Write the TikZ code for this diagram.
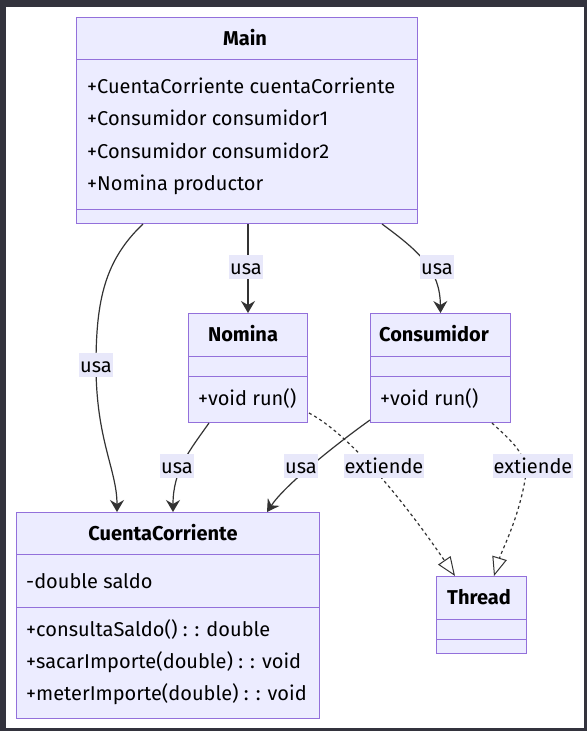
\documentclass[tikz,border=0pt]{standalone}
\usepackage{fontspec}
\setmainfont{Fira Sans}
\usetikzlibrary{arrows.meta,calc}
\definecolor{umlfill}{HTML}{ECECFF}
\definecolor{umlline}{HTML}{9370DB}
\definecolor{edgeline}{HTML}{333333}
\definecolor{labelbg}{HTML}{E8E8FA}
\definecolor{framecolor}{HTML}{33333D}

\newcommand{\umlfont}{\fontsize{20}{24}\selectfont}

\tikzset{
  classbox/.style={draw=umlline, fill=umlfill, line width=1pt, inner sep=0pt, anchor=north west},
  divider/.style={draw=umlline, line width=1pt},
  classname/.style={font=\umlfont\bfseries, inner sep=0pt, text height=15pt, text depth=1pt},
  member/.style={font=\umlfont, anchor=west, inner sep=0pt, text height=15pt, text depth=1pt},
  rel/.style={draw=edgeline, line width=1.2pt},
  uses/.style={rel, -{Stealth[length=12pt,width=14pt,inset=4pt]}},
  extends/.style={rel, dash pattern=on 3pt off 3pt, -{Triangle[open,length=19pt,width=15pt,line width=1pt]}},
  edgelabel/.style={fill=labelbg, font=\umlfont, inner xsep=1pt, inner ysep=0pt,
    minimum height=24pt, text height=15pt, text depth=1pt}
}

\begin{document}
\begin{tikzpicture}[x=1pt,y=-1pt]
  \fill[framecolor] (0,0) rectangle (587,731);
  \fill[white] (6,7) rectangle (584,728);

  % Main
  \node[classbox, minimum width=341pt, minimum height=206pt] (main) at (76,17) {};
  \draw[divider] (76,59) -- (417,59);
  \draw[divider] (76,209) -- (417,209);
  \node[classname] (mainname) at (245,38) {Main};
  \node[member] (mainattr1) at (87,86) {+CuentaCorriente cuentaCorriente};
  \node[member] (mainattr2) at (87,118) {+Consumidor consumidor1};
  \node[member] (mainattr3) at (87,151) {+Consumidor consumidor2};
  \node[member] (mainattr4) at (87,183) {+Nomina productor};

  % Nomina
  \node[classbox, minimum width=119pt, minimum height=109pt] (nomina) at (188,313) {};
  \draw[divider] (188,356) -- (307,356);
  \draw[divider] (188,376) -- (307,376);
  \node[classname] (nominaname) at (243,334) {Nomina};
  \node[member] (nominarun) at (198,398) {+void run()};

  % Consumidor
  \node[classbox, minimum width=140pt, minimum height=109pt] (consumidor) at (370,313) {};
  \draw[divider] (370,356) -- (510,356);
  \draw[divider] (370,376) -- (510,376);
  \node[classname] (consumidorname) at (434,334) {Consumidor};
  \node[member] (consumidorrun) at (380,398) {+void run()};

  % CuentaCorriente
  \node[classbox, minimum width=303pt, minimum height=206pt] (cuenta) at (16,512) {};
  \draw[divider] (16,554) -- (319,554);
  \draw[divider] (16,607) -- (319,607);
  \node[classname] (cuentaname) at (163,533) {CuentaCorriente};
  \node[member] (cuentasaldo) at (26,581) {-double saldo};
  \node[member] (cuentaconsulta) at (26,629) {+consultaSaldo() : : double};
  \node[member] (cuentasacar) at (26,661) {+sacarImporte(double) : : void};
  \node[member] (cuentameter) at (26,693) {+meterImporte(double) : : void};

  % Thread
  \node[classbox, minimum width=90pt, minimum height=77pt] (thread) at (436,576) {};
  \draw[divider] (436,619) -- (526,619);
  \draw[divider] (436,639) -- (526,639);
  \node[classname] (threadname) at (479,597) {Thread};

  % relaciones
  \draw[uses] ($(main.south west)+(67,0)$) .. controls (105,260) and (96,300) .. (96,365)
    .. controls (96,440) and (117,470) .. ($(cuenta.north west)+(101,0)$);
  \draw[uses] (nomina.north |- main.south) -- (nomina.north);
  \draw[uses] ($(main.south west)+(306,0)$) .. controls (420,252) and (440,270) .. (consumidor.north);
  \draw[uses] ($(nomina.south west)+(21,0)$) .. controls (190,450) and (173,470) .. ($(cuenta.north west)+(157,0)$);
  \draw[uses] ($(consumidor.south west)+(0,-3)$) .. controls (335,445) and (285,485) .. ($(cuenta.north west)+(251,0)$);
  \draw[extends] ($(nomina.south east)+(1,-10)$) .. controls (360,440) and (425,532) .. ($(thread.north west)+(19,0)$);
  \draw[extends] ($(consumidor.south east)+(-19,0)$) .. controls (510,440) and (530,455) .. (525,480)
    .. controls (518,520) and (502,550) .. ($(thread.north west)+(58,0)$);

  % etiquetas
  \node[edgelabel] (lblmaincuenta) at (96,365) {usa};
  \node[edgelabel] (lblmainnomina) at (246,267) {usa};
  \node[edgelabel] (lblmaincons) at (437,267) {usa};
  \node[edgelabel] (lblnominacuenta) at (177,466) {usa};
  \node[edgelabel] (lblconscuenta) at (301,466) {usa};
  \node[edgelabel] (lblnominathread) at (384,466) {extiende};
  \node[edgelabel] (lblconsthread) at (533,466) {extiende};
\end{tikzpicture}
\end{document}
